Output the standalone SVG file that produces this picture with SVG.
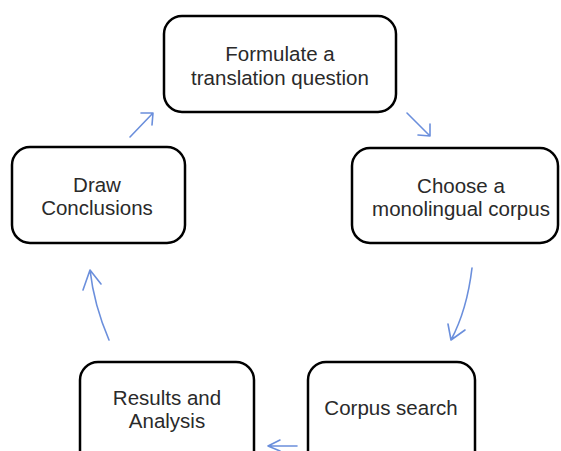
<svg xmlns="http://www.w3.org/2000/svg" width="561" height="451" viewBox="0 0 561 451">
<style>
.box{fill:#fff;stroke:#000;stroke-width:2.5}
.t{font-family:"Liberation Sans",Arial,sans-serif;font-size:20.5px;fill:#2a2a2a;text-anchor:middle}
.c{fill:none;stroke:#6b8fdc;stroke-width:1.6;stroke-linecap:round;stroke-linejoin:round}
</style>
<rect width="561" height="451" fill="#fff"/>
<g id="connectors">
<path class="c" d="M130,137 L153,113 M141,113 L153,113 L152,125"/>
<path class="c" d="M407,113 L430,136 M430,124 L430,136 L418,135"/>
<path class="c" d="M472,268 Q467,310 451,340 M448,324 L451,340 L465,330"/>
<path class="c" d="M297,446 L268,446 M280,440 L268,446 L280,451"/>
<path class="c" d="M109,340 Q94,305 90,270 M83,290 L90,270 L101,284"/>
</g>
<g id="n1"><rect class="box" x="164" y="16" width="232" height="96" rx="18"/><text class="t" x="280" y="61">Formulate a</text><text class="t" x="280" y="85">translation question</text></g>
<g id="n2"><rect class="box" x="352" y="148" width="206" height="95" rx="18"/><text class="t" x="461" y="193">Choose a</text><text class="t" x="461" y="216">monolingual corpus</text></g>
<g id="n3"><rect class="box" x="308" y="362" width="167" height="110" rx="18"/><text class="t" x="391" y="415">Corpus search</text></g>
<g id="n4"><rect class="box" x="80" y="362" width="174" height="110" rx="18"/><text class="t" x="167" y="405">Results and</text><text class="t" x="167" y="428">Analysis</text></g>
<g id="n5"><rect class="box" x="12" y="147" width="173" height="96" rx="18"/><text class="t" x="97" y="192">Draw</text><text class="t" x="97" y="215">Conclusions</text></g>
</svg>
